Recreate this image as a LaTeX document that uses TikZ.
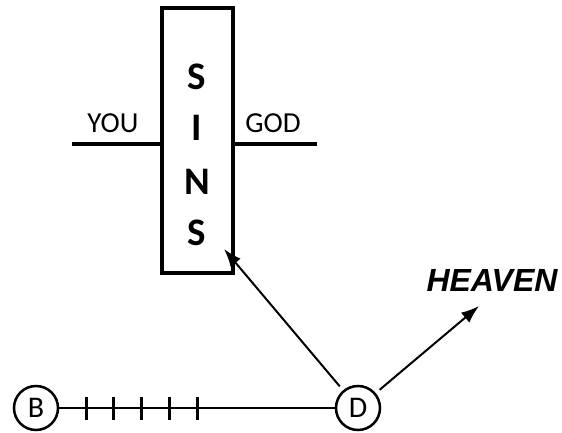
\documentclass[tikz,border=0pt]{standalone}
\usepackage{fontspec}
\setmainfont{Carlito}
\newfontfamily\heavenfont{Liberation Sans}
\usetikzlibrary{arrows.meta}

\begin{document}
\begin{tikzpicture}[x=1pt,y=-1pt]
\tikzset{>={Latex[width=13pt,length=18pt]}}
\tikzstyle{state} =[circle,draw,line width=2.5pt,minimum size=44pt,inner sep=0pt,font=\fontsize{30}{30}\selectfont]
\tikzstyle{letter} =[inner sep=0pt,font=\fontsize{39}{39}\selectfont\bfseries]
\tikzstyle{side} =[inner sep=0pt,font=\fontsize{29}{29}\selectfont]
\useasboundingbox (0,0) rectangle (562,433);
\node[draw,line width=4.5pt,minimum width=71pt,minimum height=265pt,inner sep=0pt](sins) at (197.5,140.5){};
\node[letter](s1) at (197,77){S};
\node[letter](i) at (197,128){I};
\node[letter](n) at (197,182){N};
\node[letter](s2) at (197,233){S};
\node[side](you) at (113,123){YOU};
\node[side](god) at (273,123){GOD};
\coordinate (youend) at (72,144);
\coordinate (godend) at (317,144);
\draw[line width=4.5pt] (youend) -- (youend -| sins.west);
\draw[line width=4.5pt] (godend -| sins.east) -- (godend);

\node[state](b) at (36,408){B};
\node[state](d) at (358,408){D};
\draw[line width=2.5pt] (b) -- (d);
\foreach \x in {86,113,141,169,197}
  \draw[line width=3pt] (\x,397) -- (\x,420);

\node[inner sep=0pt,font=\heavenfont\fontsize{32}{32}\selectfont\bfseries\itshape](heaven) at (492,280){HEAVEN};
\coordinate (sinstip) at (224,249);
\coordinate (heaventip) at (479,306);
\draw [->,line width=2pt,shorten <=5pt] (d) to (sinstip);
\draw [->,line width=2pt,shorten <=5pt] (d) to (heaventip);
\end{tikzpicture}
\end{document}
